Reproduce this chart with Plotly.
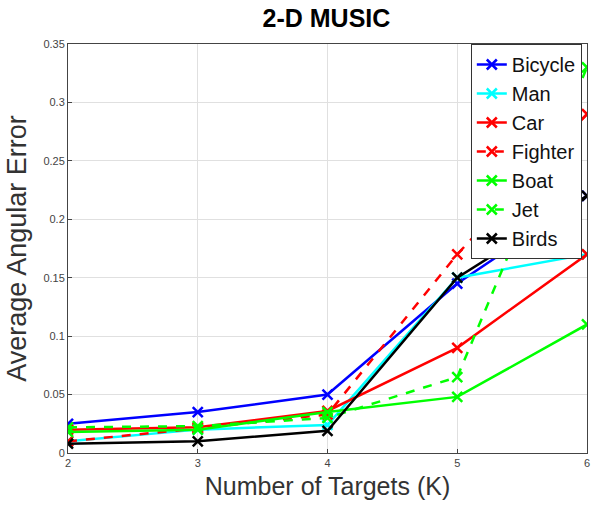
import plotly.graph_objects as go

targets = [2, 3, 4, 5, 6]
series_names = ["Bicycle", "Man", "Car", "Fighter", "Boat", "Jet", "Birds"]
bicycle = [0.025, 0.035, 0.050, 0.145, 0.220]
man = [0.010, 0.020, 0.024, 0.150, 0.170]
car = [0.020, 0.022, 0.036, 0.090, 0.170]
fighter = [0.010, 0.021, 0.033, 0.170, 0.290]
boat = [0.018, 0.020, 0.035, 0.048, 0.110]
jet = [0.022, 0.023, 0.030, 0.065, 0.330]
birds = [0.008, 0.010, 0.019, 0.150, 0.220]
y_ticks = [0, 0.05, 0.1, 0.15, 0.2, 0.25, 0.3, 0.35]
y_tick_labels = ["0", "0.05", "0.1", "0.15", "0.2", "0.25", "0.3", "0.35"]

values = [bicycle, man, car, fighter, boat, jet, birds]
colors = ["#0000FF", "#00FFFF", "#FF0000", "#FF0000", "#00FF00", "#00FF00", "#000000"]
dashes = ["solid", "solid", "solid", "dash", "solid", "dash", "solid"]

fig = go.Figure()
for name, vals, col, dash in zip(series_names, values, colors, dashes):
    fig.add_trace(go.Scatter(
        x=targets, y=vals, name=name, mode="lines+markers",
        line=dict(color=col, width=2.5, dash=dash),
        marker=dict(symbol="x-thin", size=10, color=col,
                    line=dict(color=col, width=2.5)),
    ))

axis_common = dict(
    showline=True, linecolor="#444444", linewidth=1, mirror=True,
    showgrid=True, gridcolor="#E0E0E0", gridwidth=1,
    ticks="inside", ticklen=4, tickcolor="#444444",
    tickfont=dict(size=11, color="#444444", family="Liberation Sans"),
    zeroline=False, ticklabeloverflow="allow",
)

fig.update_layout(
    width=599, height=506,
    margin=dict(l=68, r=9, t=44, b=53),
    paper_bgcolor="white", plot_bgcolor="white",
    font=dict(family="Liberation Sans", color="#222222"),
    title=dict(text="<b>2-D MUSIC</b>", x=0.545, xanchor="center", y=0.964, yanchor="middle",
               font=dict(size=25, color="#000000", family="Liberation Sans")),
    xaxis=dict(range=[2, 6], tickvals=targets, ticktext=[str(t) for t in targets],
               title=dict(text="Number of Targets (K)", standoff=9,
                          font=dict(size=25, color="#333333")),
               **axis_common),
    yaxis=dict(range=[0, 0.35], tickvals=y_ticks, ticktext=y_tick_labels,
               title=dict(text="Average Angular Error", standoff=8,
                          font=dict(size=27, color="#333333")),
               **axis_common),
    legend=dict(x=0.99, y=1.0, xanchor="right", yanchor="top",
                bgcolor="white", bordercolor="#333333", borderwidth=1,
                font=dict(size=20, color="#111111"),
                tracegroupgap=0, itemwidth=30),
    showlegend=True,
)

fig.write_html("out.html", config={"displayModeBar": False},
               post_script="document.body.style.margin='0px';")
